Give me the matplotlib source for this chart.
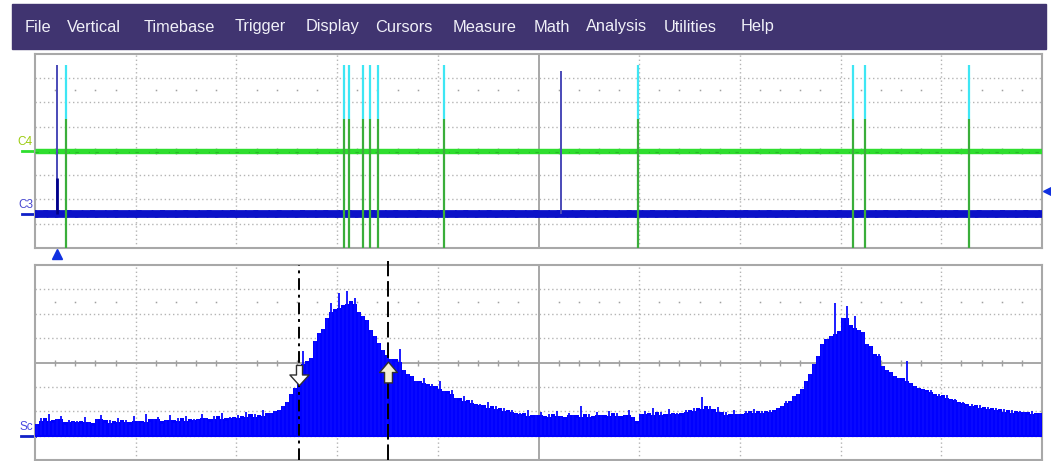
import numpy as np
import matplotlib.pyplot as plt
from matplotlib.patches import Rectangle
from matplotlib.path import Path
import matplotlib.transforms as mtransforms

# menu of the scope window
menu_items = ["File", "Vertical", "Timebase", "Trigger", "Display", "Cursors",
              "Measure", "Math", "Analysis", "Utilities", "Help"]

# upper grid: C4 / C3 levels and pulse times (divisions)
c4_level = 0.0
c3_level = -2.6
c4_pulses = [0.31, 3.07, 3.12, 3.26, 3.33, 3.41, 4.06, 5.99, 8.12, 8.24, 9.28]
c4_pulse_top = 3.55
c4_pulse_split = 1.30
c3_spikes = [0.215, 5.22]
c3_spike_tops = [3.55, 3.31]
c3_spike1_dark_top = -1.13
trigger_time = 0.215
trigger_level = -1.65

# lower grid: Sc trace, 250 bins over 10 divisions, counts above baseline
sc_counts = [
    12, 18, 15, 22, 13, 17, 20, 11, 16, 14,
    15, 12, 19, 14, 10, 17, 21, 13, 16, 12,
    18, 14, 16, 11, 20, 15, 13, 22, 14, 17,
    19, 12, 16, 21, 13, 18, 15, 20, 14, 17,
    16, 22, 18, 14, 20, 17, 23, 15, 19, 18,
    21, 17, 24, 19, 22, 18, 26, 20, 23, 25,
    26, 30, 34, 42, 48, 58, 85, 72, 78, 95,
    103, 107, 118, 133, 124, 143, 128, 145, 132, 138,
    124, 120, 116, 106, 100, 93, 86, 81, 77, 74,
    87, 66, 62, 60, 55, 53, 58, 50, 52, 47,
    55, 45, 42, 46, 38, 35, 40, 33, 36, 31,
    32, 28, 34, 27, 30, 25, 28, 24, 26, 22,
    23, 20, 26, 18, 21, 24, 17, 22, 19, 25,
    20, 16, 23, 21, 18, 30, 19, 22, 17, 24,
    21, 18, 25, 20, 23, 17, 21, 26, 19, 12,
    22, 25, 20, 28, 21, 24, 19, 27, 22, 23,
    20, 26, 24, 28, 25, 39, 27, 30, 24, 29,
    21, 24, 19, 26, 22, 20, 25, 23, 27, 22,
    25, 23, 26, 24, 28, 30, 35, 33, 40, 42,
    47, 55, 62, 72, 80, 92, 97, 100, 133, 102,
    118, 130, 108, 120, 106, 104, 92, 90, 80, 82,
    70, 66, 64, 60, 58, 55, 75, 53, 50, 48,
    47, 44, 46, 40, 42, 38, 41, 36, 37, 33,
    34, 30, 32, 28, 31, 27, 29, 26, 28, 24,
    27, 23, 26, 22, 25, 24, 21, 25, 22, 23,
]
sc_per_div = 24.4
sc_base = -3.0
cursor_t = [2.62, 3.51]
cursor_levels = [-0.53, -0.39]

W, H = 1051, 461
fig = plt.figure(figsize=(W / 100, H / 100), dpi=100)
fig.patch.set_facecolor("white")

# menu bar
fig.patches.append(Rectangle((12 / W, 1 - 49 / H), 1034 / W, 45 / H,
                             transform=fig.transFigure, color="#403470", zorder=0))
menu_x = [25, 67, 144, 235, 306, 375, 453, 534, 586, 664, 741]
for name, x in zip(menu_items, menu_x):
    fig.text(x / W, 1 - 27 / H, name, color="#f0f0f8", fontsize=11.8,
             family="Liberation Sans", va="center", ha="left")

ax1 = fig.add_axes([35 / W, 1 - 248 / H, 1007 / W, 194 / H])
ax2 = fig.add_axes([35 / W, 1 - 460 / H, 1007 / W, 195 / H])

grid_c = "#b4b4b4"
sub = [x for x in np.arange(0.2, 10, 0.2) if abs(x - round(x)) > 0.05]


def scope_grid(ax):
    ax.set_xlim(0, 10)
    ax.set_ylim(-4, 4)
    ax.set_xticks([])
    ax.set_yticks([])
    for s in ax.spines.values():
        s.set_color("#a8a8a8")
        s.set_linewidth(1.5)
    for k in range(1, 10):
        if k == 5:
            ax.axvline(k, color="#a0a0a0", lw=1.3, zorder=1)
        else:
            ax.axvline(k, color=grid_c, lw=1, ls=(0, (1, 2)), zorder=1)
    for k in range(-3, 4):
        if k == 0:
            ax.axhline(k, color="#a0a0a0", lw=1.3, zorder=1)
        else:
            ax.axhline(k, color=grid_c, lw=1, ls=(0, (1, 2)), zorder=1)
    ax.plot(sub, [0] * len(sub), ls="none", marker="|", ms=4.5, mew=1,
            color="#a0a0a0", zorder=1)
    for yd in (2.5, -2.5):
        ax.plot(sub, [yd] * len(sub), ls="none", marker="s", ms=1.1, mew=0,
                color="#a0a0a0", zorder=1)


scope_grid(ax1)
scope_grid(ax2)

# --- upper grid: C4 and C3 ---
ax1.plot([0, 10], [c4_level, c4_level], color="#2ede2e", lw=3.9, zorder=3,
         solid_capstyle="butt")
ax1.plot([0, 10], [c4_level - 0.05, c4_level - 0.05], color="#26b826", lw=0.8,
         ls=(0, (3, 9, 1, 5)), zorder=3)
ax1.plot([0, 10], [c3_level, c3_level], color="#0c12c8", lw=5.6, zorder=3,
         solid_capstyle="butt")
ax1.plot([0, 10], [c3_level - 0.12, c3_level - 0.12], color="#0c12c8", lw=1.2,
         ls=(0, (2, 5, 1, 4)), zorder=3)
ax1.plot([0, 10], [c3_level + 0.12, c3_level + 0.12], color="#0c12c8", lw=1.2,
         ls=(0, (1, 4, 3, 6)), zorder=3)
ax1.vlines(c4_pulses, c4_pulse_split, c4_pulse_top, color="#3ee6f4", lw=1.6, zorder=4)
ax1.vlines(c4_pulses, -4, c4_pulse_split, color="#3aae3a", lw=1.6, zorder=4)
ax1.vlines(c3_spikes, c3_level, c3_spike_tops, color="#4a4ab8", lw=1.4, zorder=4)
ax1.vlines(c3_spikes[0], c3_level, c3_spike1_dark_top, color="#00008a", lw=2.0, zorder=4)

lab_tr = mtransforms.blended_transform_factory(ax1.transAxes, ax1.transData)
for txt, lvl, tc, lc in [("C4", c4_level, "#9ccc10", "#2ede2e"),
                         ("C3", c3_level, "#4848d0", "#1020c8")]:
    ax1.text(-0.002, lvl + 0.13, txt, transform=lab_tr, ha="right", va="bottom",
             fontsize=8.5, color=tc, family="Liberation Sans")
    ax1.plot([-0.013, 0], [lvl, lvl], transform=lab_tr, color=lc, lw=2,
             clip_on=False)

trig_tr = mtransforms.blended_transform_factory(ax1.transData, ax1.transAxes)
ax1.plot([trigger_time], [-0.031], transform=trig_tr, marker="^", ms=7,
         color="#1030e0", clip_on=False)
ax1.plot([1.006], [trigger_level], transform=lab_tr, marker="<", ms=6.5,
         color="#1030e0", clip_on=False)

# --- lower grid: Sc ---
# solid body = median of neighbouring bins, thin spikes on top of it
edges = np.linspace(0, 10, len(sc_counts) + 1)
centers = 0.5 * (edges[:-1] + edges[1:])
sc = np.array(sc_counts, dtype=float)
padded = np.concatenate([[sc[0]], sc, [sc[-1]]])
body = np.median(np.vstack([padded[:-2], padded[1:-1], padded[2:]]), axis=0)
body = np.minimum(body, sc + 3)
ax2.stairs(sc_base + body / sc_per_div, edges, baseline=sc_base,
           fill=True, color="#0000ff", lw=0, zorder=3)
ax2.vlines(centers, sc_base, sc_base + sc / sc_per_div, color="#0a0aff",
           lw=1.3, zorder=3)
ax2.plot([0, 10], [sc_base, sc_base], color="#0000ff", lw=1.5, zorder=3)

sc_tr = mtransforms.blended_transform_factory(ax2.transAxes, ax2.transData)
ax2.text(-0.002, sc_base + 0.12, "Sc", transform=sc_tr, ha="right", va="bottom",
         fontsize=8.5, color="#4848e0", family="Liberation Sans")
ax2.plot([-0.014, 0], [sc_base, sc_base], transform=sc_tr, color="#1020c8",
         lw=2, clip_on=False)

# cursors
ax2.plot([cursor_t[0]] * 2, [-4, 4], color="black", lw=1.4,
         ls=(0, (6, 2.5, 1.5, 2.5)), zorder=5)
ax2.plot([cursor_t[1]] * 2, [-4, 4.16], color="black", lw=1.4,
         ls=(0, (8, 2.5)), zorder=5, clip_on=False)

down_arrow = Path([(-0.3, 1), (0.3, 1), (0.3, 0.05), (0.95, 0.05), (0, -1),
                   (-0.95, 0.05), (-0.3, 0.05), (-0.3, 1)], closed=True)
up_arrow = Path([(-0.38, -1), (0.38, -1), (0.38, 0.0), (0.85, 0.0), (0, 1),
                 (-0.85, 0.0), (-0.38, 0.0), (-0.38, -1)], closed=True)
ax2.plot([cursor_t[0]], [cursor_levels[0]], marker=down_arrow, ms=14.5,
         mfc="white", mec="#303030", mew=1, zorder=6)
ax2.plot([cursor_t[1]], [cursor_levels[1]], marker=up_arrow, ms=15,
         mfc="#f4efd4", mec="#303030", mew=1, zorder=6)

fig.savefig("out.png", dpi=100)
